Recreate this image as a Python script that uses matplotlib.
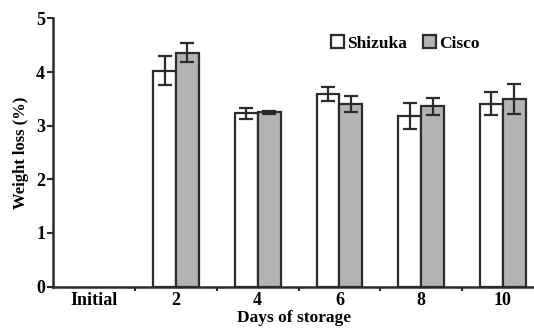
import matplotlib

matplotlib.use("Agg")
import matplotlib.pyplot as plt
import numpy as np

categories = ["Initial", "2", "4", "6", "8", "10"]
shizuka = [0.0, 4.02, 3.23, 3.59, 3.18, 3.41]
shizuka_err = [0.0, 0.27, 0.10, 0.13, 0.25, 0.21]
cisco = [0.0, 4.36, 3.25, 3.41, 3.36, 3.49]
cisco_err = [0.0, 0.18, 0.03, 0.15, 0.16, 0.28]

plt.rcParams["font.family"] = ["Liberation Serif", "DejaVu Serif"]
plt.rcParams["font.weight"] = "bold"
plt.rcParams["axes.labelweight"] = "bold"

fig = plt.figure(figsize=(5.34, 3.29), dpi=100)
ax = fig.add_axes([0.100, 0.129, 0.90, 0.815])

x = np.arange(len(categories))
w = 0.28
edge = "#2b2b2b"
err_kw = dict(ecolor=edge, elinewidth=1.6, capsize=5, capthick=1.6)

# "Initial" has no bars (value 0), so skip it
mask = x > 0
ax.bar(x[mask] - w / 2, np.array(shizuka)[mask], w,
       yerr=np.array(shizuka_err)[mask], color="white", edgecolor=edge,
       linewidth=1.6, error_kw=err_kw, label="Shizuka")
ax.bar(x[mask] + w / 2, np.array(cisco)[mask], w,
       yerr=np.array(cisco_err)[mask], color="#b3b3b3", edgecolor=edge,
       linewidth=1.6, error_kw=err_kw, label="Cisco")

ax.set_xlim(-0.5, 5.38)
ax.set_ylim(0, 5)
ax.set_yticks(range(6))
ax.set_xticks(x)
ax.set_xticklabels(categories)
ax.set_xticks(x[:-1] + 0.5, minor=True)
ax.tick_params(axis="x", which="major", length=0, labelsize=13, pad=4)
ax.tick_params(axis="x", which="minor", length=3, width=1.5, color=edge)
ax.tick_params(axis="y", length=4, width=1.5, labelsize=13, pad=2, color=edge)

for s in ("top", "right"):
    ax.spines[s].set_visible(False)
for s in ("left", "bottom"):
    ax.spines[s].set_linewidth(1.8)
    ax.spines[s].set_color(edge)

ax.set_xlabel("Days of storage", fontsize=12.5, labelpad=0.5)
ax.set_ylabel("Weight loss (%)", fontsize=12, labelpad=5)

ax.legend(loc="upper right", bbox_to_anchor=(0.92, 0.995), ncol=2, frameon=False,
          fontsize=12.5, handlelength=0.75, handleheight=0.75, handletextpad=0.2,
          columnspacing=0.9)

fig.savefig("out.png", dpi=100)
